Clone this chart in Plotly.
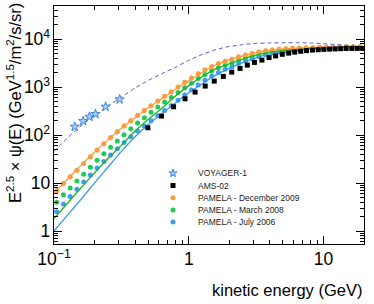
import plotly.graph_objects as go

# ---------------- data ----------------
pamela_E = [0.1047, 0.1175, 0.1318, 0.1479, 0.1660, 0.1862, 0.2089, 0.2344, 0.2630, 0.2951,
            0.3311, 0.3715, 0.4169, 0.4677, 0.5248, 0.5888, 0.6607, 0.7413, 0.8318, 0.9333,
            1.047, 1.175, 1.318, 1.479, 1.660, 1.862, 2.089, 2.344, 2.630, 2.951,
            3.311, 3.715, 4.169, 4.677, 5.248, 5.888, 6.607, 7.413, 8.318, 9.333,
            10.47, 11.75, 13.18, 14.79, 16.60, 18.62]
pamela_dec2009 = [6.92, 9.77, 13.5, 18.6, 25.7, 35.5, 49.0, 66.1, 89.1, 117.5,
                  155, 200, 257, 324, 407, 513, 646, 794, 1000, 1259,
                  1549, 1905, 2291, 2692, 3090, 3467, 3802, 4266, 4677, 5012,
                  5370, 5689, 5957, 6166, 6310, 6457, 6531, 6607, 6683, 6761,
                  6761, 6839, 6839, 6918, 6918, 6918]
pamela_mar2008 = [3.98, 5.68, 7.91, 11.0, 15.3, 21.4, 29.8, 40.6, 55.6, 75.4,
                  102, 135.7, 179.5, 231, 298, 384, 491, 607, 769, 974,
                  1208, 1503, 1828, 2173, 2523, 2864, 3177, 3606, 4009, 4371,
                  4764, 5134, 5458, 5715, 5916, 6124, 6252, 6362, 6471, 6584,
                  6615, 6714, 6730, 6823, 6839, 6839]
pamela_jul2006 = [2.51, 3.66, 5.22, 7.45, 10.5, 14.7, 20.5, 28.0, 38.4, 51.8,
                  69.8, 92.0, 121, 155, 199, 254, 327, 411, 530, 682,
                  865, 1108, 1387, 1696, 2023, 2350, 2667, 3097, 3516, 3899,
                  4325, 4742, 5111, 5395, 5636, 5888, 6053, 6194, 6339, 6486,
                  6546, 6660, 6699, 6815, 6839, 6839]

ams_E = [0.497, 0.627, 0.771, 0.938, 1.114, 1.324, 1.545, 1.804, 2.083, 2.40,
         2.72, 3.07, 3.49, 3.94, 4.41, 4.94, 5.51, 6.11, 6.77, 7.47,
         8.27, 9.13, 10.05, 11.09, 12.19, 13.4, 14.7, 16.2, 17.8, 19.5]
ams_flux = [142, 249, 389, 570, 787, 1050, 1334, 1671, 2053, 2453,
            2872, 3271, 3652, 4120, 4467, 4823, 5105, 5357, 5570, 5757,
            5900, 6012, 6100, 6190, 6250, 6310, 6370, 6400, 6400, 6400]

voyager_E = [0.1426, 0.1645, 0.1833, 0.2032, 0.2415, 0.3069]
voyager_flux = [149, 196, 241, 274, 389, 554]

model_E = [0.1, 0.1259, 0.1585, 0.1995, 0.2512, 0.3162, 0.3981, 0.5012, 0.6310, 0.7943,
           1.0, 1.259, 1.585, 1.995, 2.512, 3.162, 3.981, 5.012, 6.310, 7.943,
           10.0, 12.59, 15.85, 19.95]
lis_flux = [45.7, 87.1, 155, 257, 407, 617, 955, 1380, 1905, 2570,
            3631, 4786, 6026, 6998, 7674, 8128, 8318, 8414, 8414, 8318,
            8035, 7674, 7244, 6918]
model_dec2009 = [6.17, 12.0, 23.4, 43.7, 79.4, 138, 229, 372, 575, 891,
                 1349, 2042, 2884, 3715, 4467, 5248, 5821, 6237, 6457, 6607,
                 6761, 6839, 6918, 6918]
model_mar2008 = [1.82, 3.80, 7.94, 16.2, 32.4, 61.7, 120, 214, 363, 646,
                 1072, 1660, 2399, 3055, 3846, 4624, 5333, 5834, 6194, 6397,
                 6607, 6714, 6823, 6855]
model_jul2006 = [1.00, 2.14, 4.57, 10.0, 21.4, 45.7, 91.2, 166, 282, 468,
                 759, 1175, 1778, 2455, 3236, 4074, 4898, 5495, 5957, 6266,
                 6457, 6637, 6761, 6839]

legend_names = ["VOYAGER-1", "AMS-02", "PAMELA - December 2009",
                "PAMELA - March 2008", "PAMELA - July 2006"]

# ---------------- styles ----------------
C_OR = "#ff9a3c"
C_GR = "#1fca55"
C_BL = "#3d9ef2"
C_GRL = "#19b81e"
C_BLL = "#3a98f0"
C_DASH = "#5757e0"
C_VOY = "#3a86e0"

FONT = "Liberation Sans, Arial, Helvetica, sans-serif"

fig = go.Figure()

# PAMELA points
fig.add_trace(go.Scatter(x=pamela_E, y=pamela_jul2006, mode="markers",
                         marker=dict(symbol="circle", size=5, color=C_BL)))
fig.add_trace(go.Scatter(x=pamela_E, y=pamela_mar2008, mode="markers",
                         marker=dict(symbol="circle", size=5, color=C_GR)))
fig.add_trace(go.Scatter(x=pamela_E, y=pamela_dec2009, mode="markers",
                         marker=dict(symbol="circle", size=5, color=C_OR),
                         error_y=dict(type="percent", value=12, thickness=1, width=0, color=C_OR),
                         error_x=dict(type="percent", value=4, thickness=1, width=0, color=C_OR)))

# model lines
fig.add_trace(go.Scatter(x=model_E, y=model_jul2006, mode="lines",
                         line=dict(color=C_BLL, width=1.3, shape="spline", smoothing=0.6)))
fig.add_trace(go.Scatter(x=model_E, y=model_mar2008, mode="lines",
                         line=dict(color=C_GRL, width=1.3, shape="spline", smoothing=0.6)))
fig.add_trace(go.Scatter(x=model_E, y=model_dec2009, mode="lines",
                         line=dict(color=C_OR, width=1.3, shape="spline", smoothing=0.6)))
fig.add_trace(go.Scatter(x=model_E, y=lis_flux, mode="lines",
                         line=dict(color=C_DASH, width=1, dash="4px,3px", shape="spline", smoothing=0.6)))

# AMS and Voyager
fig.add_trace(go.Scatter(x=ams_E, y=ams_flux, mode="markers",
                         marker=dict(symbol="square", size=5, color="black")))
fig.add_trace(go.Scatter(x=voyager_E, y=voyager_flux, mode="markers",
                         marker=dict(symbol="star", size=7, color="#a9cdf5",
                                     line=dict(color=C_VOY, width=1))))

# ---------------- custom compact legend ----------------
plot_l, plot_r, plot_t, plot_b = 54, 364, 6, 244
pw, ph = plot_r - plot_l, plot_b - plot_t
leg_marker_px = 173
leg_text_px = 196
leg_top_px = 173.3
leg_step_px = 12.2
leg_styles = [
    dict(symbol="star", size=6, color="#a9cdf5", line=dict(color=C_VOY, width=1)),
    dict(symbol="square", size=5, color="black"),
    dict(symbol="circle", size=5, color=C_OR),
    dict(symbol="circle", size=5, color=C_GR),
    dict(symbol="circle", size=5, color=C_BL),
]
for i, (name, st) in enumerate(zip(legend_names, leg_styles)):
    yy = (plot_b - (leg_top_px + i * leg_step_px)) / ph
    xx = (leg_marker_px - plot_l) / pw
    fig.add_trace(go.Scatter(x=[xx], y=[yy], xaxis="x2", yaxis="y2", mode="markers",
                             marker=st, hoverinfo="skip"))
    fig.add_annotation(x=(leg_text_px - plot_l) / pw, y=yy, xref="paper", yref="paper",
                       text=name, showarrow=False, xanchor="left", yanchor="middle",
                       font=dict(family=FONT, size=8.5, color="#222"))

# axis titles
fig.add_annotation(x=1.0, y=(plot_b - 290) / ph, xref="paper", yref="paper",
                   text="kinetic energy (GeV)", showarrow=False,
                   xanchor="right", yanchor="middle",
                   font=dict(family=FONT, size=16.5, color="black"))
fig.add_annotation(x=(14 - plot_l) / pw, y=(plot_b - 1) / ph, xref="paper", yref="paper",
                   text="E<sup>2.5</sup> × ψ(E) (GeV<sup>1.5</sup>/m<sup>2</sup>/s/sr)",
                   showarrow=False, textangle=-90, xanchor="center", yanchor="top",
                   font=dict(family=FONT, size=16.5, color="black"))

axis_common = dict(type="log", dtick=1, exponentformat="power", ticks="inside",
                   ticklen=8, tickwidth=1, tickcolor="black", mirror="allticks",
                   showline=True, linecolor="black", linewidth=1, showgrid=False,
                   zeroline=False, tickfont=dict(family=FONT, size=14, color="black"),
                   minor=dict(ticks="inside", ticklen=4, tickcolor="black",
                              showgrid=False, dtick="D1"))

fig.update_layout(
    width=374, height=304,
    margin=dict(l=plot_l, r=374 - plot_r, t=plot_t, b=304 - plot_b),
    plot_bgcolor="white", paper_bgcolor="white",
    showlegend=False,
    font=dict(family=FONT, color="black"),
    xaxis=dict(range=[-1, 1.30], **axis_common),
    yaxis=dict(range=[-0.27, 4.69], **axis_common),
    xaxis2=dict(range=[0, 1], overlaying="x", visible=False, fixedrange=True),
    yaxis2=dict(range=[0, 1], overlaying="y", visible=False, fixedrange=True),
)

fig.write_html("out.html", config={"displayModeBar": False},
               post_script="document.body.style.margin='0';document.body.style.padding='0';")
